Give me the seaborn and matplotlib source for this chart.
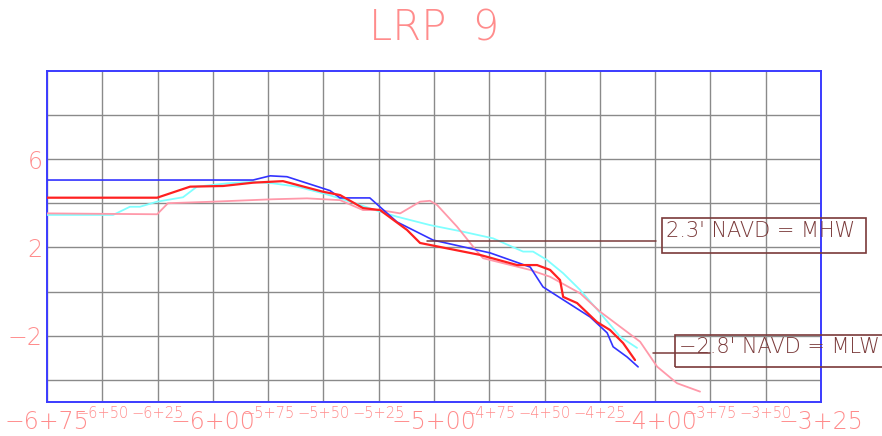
import matplotlib
matplotlib.use("Agg")
import matplotlib.pyplot as plt
import seaborn as sns
import pandas as pd
from matplotlib.patches import Rectangle

# ---- data (station in feet, elevation in ft NAVD) ----
blue_x = [-675, -581.8, -574.1, -566.5, -547, -542.5, -529, -524.4, -516.7, -500.4,
          -474.6, -456.5, -450.7, -429.4, -421.7, -419, -412.7, -407.7]
blue_y = [5.05, 5.05, 5.24, 5.2, 4.57, 4.24, 4.24, 3.83, 3.15, 2.33,
          1.75, 1.11, 0.21, -1.15, -1.87, -2.5, -2.96, -3.41]

red_x = [-675, -625.2, -610.3, -595.4, -581.8, -568.3, -550.2, -542.5, -532.1, -524.4,
         -512.2, -506.3, -497.3, -479.2, -462.4, -453.4, -447.5, -443, -441.6, -435.3,
         -426.3, -420.4, -414.5, -409.1]
red_y = [4.25, 4.25, 4.75, 4.78, 4.93, 5.0, 4.52, 4.37, 3.78, 3.69,
         2.79, 2.2, 2.02, 1.66, 1.2, 1.2, 0.98, 0.52, -0.24, -0.52,
         -1.38, -1.74, -2.33, -3.1]

cyan_x = [-675, -645.1, -637.5, -633, -625.2, -613.5, -607.2, -593.6, -581.8, -572.8,
          -561.9, -550.2, -542.5, -524.4, -516.7, -501.8, -486.9, -473.3, -459.7, -455.2,
          -448.9, -441.6, -433.9, -424.9, -415.8, -408.2]
cyan_y = [3.47, 3.47, 3.84, 3.84, 4.07, 4.27, 4.75, 4.9, 4.97, 4.9,
          4.75, 4.45, 4.22, 3.62, 3.39, 3.01, 2.71, 2.41, 1.81, 1.81,
          1.43, 0.83, 0.07, -0.97, -2.05, -2.55]

pink_x = [-675, -625.2, -620.3, -599.9, -572.8, -557.4, -542.5, -532.1, -524.4, -515.3,
          -506.3, -501.8, -498.6, -489.6, -480.5, -477.8, -456.5, -447.5, -433.9, -424.9,
          -406.8, -399.1, -390.1, -379.7]
pink_y = [3.54, 3.5, 4.0, 4.07, 4.18, 4.22, 4.14, 3.69, 3.69, 3.54,
          4.07, 4.11, 3.92, 2.94, 1.81, 1.51, 0.98, 0.67, -0.08, -0.91,
          -2.27, -3.4, -4.15, -4.53]

big_ticks = [-675, -600, -500, -400, -325]
big_labels = ["−6+75", "−6+00", "−5+00", "−4+00", "−3+25"]
small_ticks = [-650, -625, -575, -550, -525, -475, -450, -425, -375, -350]
small_labels = ["−6+50", "−6+25", "−5+75", "−5+50", "−5+25",
                "−4+75", "−4+50", "−4+25", "−3+75", "−3+50"]
y_ticks = [-4, -2, 0, 2, 4, 6, 8]
y_labels = ["", "−2", "", "2", "", "6", ""]

mhw = 2.3
mlw = -2.8
mhw_text = "2.3' NAVD = MHW"
mlw_text = "−2.8' NAVD = MLW"
title = "LRP  9"

# ---- style ----
salmon = "#ff8c8c"
brown = "#7a3a3a"
sns.set_style("white")
plt.rcParams['font.family'] = ['DejaVu Sans']

fig = plt.figure(figsize=(8.82, 4.36), dpi=100)
ax = fig.add_axes([47/882, 1-402/436, (821-47)/882, (402-70.7)/436])

series = [("cyan", cyan_x, cyan_y, "#80ffff", 1.3),
          ("pink", pink_x, pink_y, "#ff99aa", 1.3),
          ("blue", blue_x, blue_y, "#3333ff", 1.2),
          ("red", red_x, red_y, "#ff2020", 1.6)]
for name, xs, ys, col, lw in series:
    df = pd.DataFrame({"x": xs, "y": ys})
    sns.lineplot(data=df, x="x", y="y", ax=ax, color=col, lw=lw, sort=False,
                 estimator=None, zorder=3)

ax.set_xlim(-675, -325)
ax.set_ylim(-5, 10)
ax.set_xlabel("")
ax.set_ylabel("")

ax.set_xticks(big_ticks)
ax.set_xticklabels(big_labels)
ax.set_xticks(small_ticks, minor=True)
ax.set_xticklabels(small_labels, minor=True)
ax.set_yticks(y_ticks)
ax.set_yticklabels(y_labels)

ax.tick_params(axis="x", which="major", length=0, pad=6, labelsize=17, labelcolor=salmon)
ax.tick_params(axis="x", which="minor", length=0, pad=3, labelsize=10.5, labelcolor=salmon)
ax.tick_params(axis="y", length=0, pad=3, labelsize=17, labelcolor=salmon)
for lab in ax.get_xticklabels(which="both") + ax.get_yticklabels():
    lab.set_fontweight("light")

ax.grid(True, which="both", color="#8a8a8a", lw=1.0)
ax.set_axisbelow(True)
for s in ax.spines.values():
    s.set_color("#3b3bff")
    s.set_linewidth(1.4)
    s.set_visible(True)

# annotations
ax.plot([-503, -399.5], [mhw, mhw], color=brown, lw=1.1, zorder=4)
ax.add_patch(Rectangle((-396.8, 1.75), 92.2, 1.58, fill=False, ec=brown, lw=1.2,
                       clip_on=False, zorder=4))
ax.text(-395, 2.73, mhw_text, color=brown, fontsize=15, va="center", ha="left",
        fontweight="light", clip_on=False)

ax.plot([-401, -375], [mlw, mlw], color=brown, lw=1.1, zorder=4, clip_on=False)
ax.add_patch(Rectangle((-391, -3.4), 120, 1.44, fill=False, ec=brown, lw=1.2,
                       clip_on=False, zorder=4))
ax.text(-389, -2.49, mlw_text, color=brown, fontsize=15, va="center", ha="left",
        fontweight="light", clip_on=False)

fig.text(434/882, 1-28/436, title, color=salmon, fontsize=30, ha="center", va="center",
         fontweight="light")

fig.savefig("out.png", dpi=100)
